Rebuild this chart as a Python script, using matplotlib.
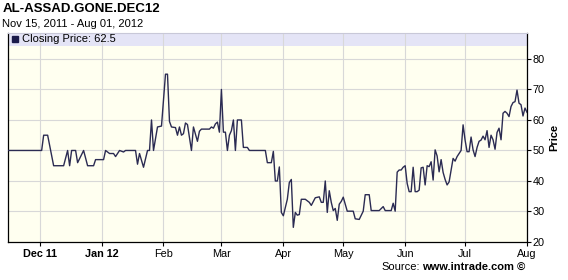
import matplotlib
matplotlib.use('Agg')
import matplotlib.pyplot as plt
from matplotlib.lines import Line2D
import pandas as pd

plt.rcParams['font.family'] = ['Liberation Sans', 'DejaVu Sans']

title = 'AL-ASSAD.GONE.DEC12'
subtitle = 'Nov 15, 2011 - Aug 01, 2012'
last_close = 62.5

dates = [
    '2011-11-15', '2011-12-02', '2011-12-03', '2011-12-05', '2011-12-08', '2011-12-13',
    '2011-12-15', '2011-12-16', '2011-12-17', '2011-12-19', '2011-12-20', '2011-12-23',
    '2011-12-25', '2011-12-28', '2011-12-29', '2012-01-02', '2012-01-03', '2012-01-05',
    '2012-01-07', '2012-01-08', '2012-01-10', '2012-01-12', '2012-01-13', '2012-01-18',
    '2012-01-19', '2012-01-20', '2012-01-22', '2012-01-24', '2012-01-25', '2012-01-26',
    '2012-01-27', '2012-01-29', '2012-01-31', '2012-02-02', '2012-02-03', '2012-02-04',
    '2012-02-05', '2012-02-07', '2012-02-08', '2012-02-09', '2012-02-10', '2012-02-11',
    '2012-02-12', '2012-02-13', '2012-02-15', '2012-02-16', '2012-02-18', '2012-02-19',
    '2012-02-20', '2012-02-24', '2012-02-25', '2012-02-26', '2012-02-27', '2012-02-28',
    '2012-02-29', '2012-03-01', '2012-03-02', '2012-03-03', '2012-03-04', '2012-03-05',
    '2012-03-06', '2012-03-07', '2012-03-08', '2012-03-09', '2012-03-11', '2012-03-12',
    '2012-03-14', '2012-03-15', '2012-03-23', '2012-03-24', '2012-03-26', '2012-03-27',
    '2012-03-28', '2012-03-29', '2012-03-30', '2012-03-31', '2012-04-01', '2012-04-03',
    '2012-04-04', '2012-04-05', '2012-04-06', '2012-04-07', '2012-04-08', '2012-04-09',
    '2012-04-10', '2012-04-12', '2012-04-14', '2012-04-15', '2012-04-17', '2012-04-19',
    '2012-04-20', '2012-04-21', '2012-04-22', '2012-04-23', '2012-04-24', '2012-04-25',
    '2012-04-26', '2012-04-27', '2012-04-28', '2012-04-29', '2012-04-30', '2012-05-01',
    '2012-05-03', '2012-05-06', '2012-05-07', '2012-05-09', '2012-05-11', '2012-05-12',
    '2012-05-14', '2012-05-15', '2012-05-19', '2012-05-21', '2012-05-22', '2012-05-25',
    '2012-05-26', '2012-05-27', '2012-05-28', '2012-05-29', '2012-05-30', '2012-05-31',
    '2012-06-01', '2012-06-02', '2012-06-03', '2012-06-04', '2012-06-05', '2012-06-06',
    '2012-06-07', '2012-06-08', '2012-06-09', '2012-06-10', '2012-06-11', '2012-06-12',
    '2012-06-13', '2012-06-14', '2012-06-15', '2012-06-16', '2012-06-17', '2012-06-18',
    '2012-06-19', '2012-06-20', '2012-06-21', '2012-06-22', '2012-06-23', '2012-06-24',
    '2012-06-25', '2012-06-26', '2012-06-27', '2012-06-28', '2012-06-29', '2012-06-30',
    '2012-07-01', '2012-07-02', '2012-07-03', '2012-07-04', '2012-07-05', '2012-07-06',
    '2012-07-07', '2012-07-08', '2012-07-09', '2012-07-10', '2012-07-11', '2012-07-12',
    '2012-07-13', '2012-07-14', '2012-07-15', '2012-07-16', '2012-07-17', '2012-07-18',
    '2012-07-19', '2012-07-20', '2012-07-21', '2012-07-22', '2012-07-23', '2012-07-24',
    '2012-07-25', '2012-07-26', '2012-07-27', '2012-07-28', '2012-07-29', '2012-07-30',
    '2012-07-31', '2012-08-01',
]

prices = [
    50, 50, 55, 55, 45, 45,
    50, 45, 50, 50, 46, 50,
    45, 45, 47, 47, 50, 49,
    49, 48, 50, 49.5, 50, 50,
    45.5, 49, 44.5, 50, 50, 60,
    50, 57.7, 58, 75, 75, 59.5,
    57.7, 57.5, 55, 57.7, 55, 55.5,
    59, 58.5, 50, 57.7, 53, 56.3,
    57, 57, 57.7, 57.3, 58.7, 59.3,
    56, 70, 56, 56, 50, 55,
    56.5, 60, 50, 60, 60, 51,
    51, 50, 50, 46, 46, 49.7,
    40, 40, 44.6, 29.7, 28.6, 34,
    39.5, 40.5, 24.8, 29.7, 28.8, 29,
    34, 34, 33, 32, 34.5, 34.8,
    33, 33, 40, 29.7, 36.8, 33,
    30.3, 31, 27.1, 32.4, 33.3, 34.7,
    30.1, 30.1, 27.6, 27.4, 30.1, 35.5,
    35.5, 30.3, 30.3, 31.6, 30.3, 30.3,
    32.7, 30.1, 42.9, 43.6, 43.6, 44.5,
    45, 39.2, 36.5, 36.5, 44.5, 36.5,
    36.5, 37, 44.3, 44.5, 38.7, 45,
    44.7, 46.3, 40.3, 50.2, 48.2, 43,
    47, 42.8, 40.5, 38.7, 39.7, 43.5,
    47.4, 46.5, 48, 49, 50, 58.4,
    53.4, 49.6, 49.6, 54.4, 50.2, 48,
    51, 53, 53.4, 54.7, 53.5, 56.5,
    51, 55, 53.5, 50.4, 55.9, 57.3,
    53.5, 62.2, 62.8, 62.2, 61.1, 64.4,
    65.7, 66, 69.8, 65.5, 65, 61.3,
    63.9, 62.5,
]

month_ticks = ['2011-12-01', '2012-01-01', '2012-02-01', '2012-03-01', '2012-04-01',
               '2012-05-01', '2012-06-01', '2012-07-01', '2012-08-01']
month_labels = ['Dec 11', 'Jan 12', 'Feb', 'Mar', 'Apr', 'May', 'Jun', 'Jul', 'Aug']
price_ticks = [20, 30, 40, 50, 60, 70, 80]

x = pd.to_datetime(dates)

W, H = 568, 280
fig = plt.figure(figsize=(W / 100, H / 100), dpi=100)
ax = fig.add_axes([7.7 / W, 38 / H, (527 - 7.7) / W, 209 / H])
ax.set_facecolor('#fffff0')

ymin, ymax = 20, 88.5
ax.set_ylim(ymin, ymax)
ax.set_xlim(pd.Timestamp('2011-11-15'), pd.Timestamp('2012-08-01'))

# legend band on top of the plot area
band_lo = 84.4
ax.axhspan(band_lo, ymax, color='#e4e4f6', zorder=0.3, lw=0)

ax.plot(x, prices, color='#2b2b52', linewidth=1.0, zorder=3)

ax.set_xticks(pd.to_datetime(month_ticks))
ax.set_xticklabels(month_labels, fontsize=7.8)
for lbl in ax.get_xticklabels()[:2]:
    lbl.set_fontweight('bold')
ax.set_yticks(price_ticks)
ax.set_yticklabels([str(t) for t in price_ticks], fontsize=7.8)
ax.yaxis.tick_right()
ax.yaxis.set_label_position('right')
ax.tick_params(axis='y', length=3, width=0.8, pad=1, colors='black')
ax.tick_params(axis='x', length=3, width=0.8, pad=2)
ax.tick_params(axis='y', left=False)

ax.set_axisbelow(True)
ax.grid(True, color='#d8d8d8', linewidth=0.8)
# horizontal gridlines stop at the band
ax.yaxis.grid(False)
for t in price_ticks[1:]:
    ax.axhline(t, color='#d8d8d8', linewidth=0.8, zorder=0.5)

for side in ['left', 'bottom', 'right']:
    ax.spines[side].set_color('black')
    ax.spines[side].set_linewidth(0.9)
ax.spines['top'].set_color('#c8c8d8')
ax.spines['top'].set_linewidth(0.8)

ax.set_ylabel('Price', fontsize=8, fontweight='bold', labelpad=3)

fig.text(2.5 / W, 1 - 9.5 / H, title, fontsize=9.5, fontweight='bold', va='center', ha='left')
fig.text(2.5 / W, 1 - 24 / H, subtitle, fontsize=8, va='center', ha='left')

# legend inside the band
fig.add_artist(Line2D([15.5 / W], [1 - 39.5 / H], marker='s', markersize=4.6,
                      color='#1a1a4a', markeredgecolor='#1a1a4a', linestyle='none'))
fig.text(21.5 / W, 1 - 39.5 / H, f'Closing Price: {last_close}', fontsize=8,
         va='center', ha='left')

src = fig.text(525 / W, 1 - 267 / H, 'www.intrade.com \u00a9', fontsize=8,
               fontweight='bold', va='center', ha='right')
ax.annotate('Source:', xy=(0, 0.5), xycoords=src, xytext=(-1, 0),
            textcoords='offset points', fontsize=8,
            va='center', ha='right', annotation_clip=False)

fig.savefig('out.png', dpi=100, facecolor='white')
